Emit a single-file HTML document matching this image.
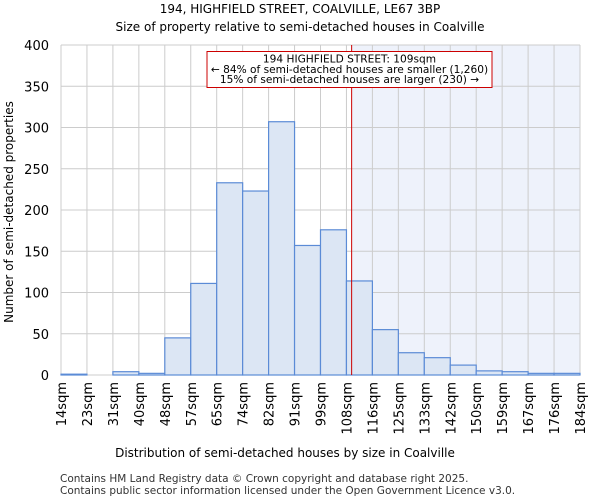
<!DOCTYPE html>
<html><head><meta charset="utf-8"><style>
body{margin:0;background:#fff;font-family:"DejaVu Sans","Liberation Sans",sans-serif;}
</style></head><body>
<svg width="600" height="500" xmlns="http://www.w3.org/2000/svg" font-family="DejaVu Sans, Liberation Sans, sans-serif">
<text x="300" y="13" text-anchor="middle" font-size="12" fill="#000">194, HIGHFIELD STREET, COALVILLE, LE67 3BP</text>
<text x="300" y="31" text-anchor="middle" font-size="12" fill="#000">Size of property relative to semi-detached houses in Coalville</text>
<g id="plot"></g>
<text x="285" y="457" text-anchor="middle" font-size="12">Distribution of semi-detached houses by size in Coalville</text>
<text transform="translate(13,212) rotate(-90)" text-anchor="middle" font-size="12">Number of semi-detached properties</text>
<text x="60" y="482" font-size="10.5" fill="#333">Contains HM Land Registry data © Crown copyright and database right 2025.</text>
<text x="60" y="494" font-size="10.5" fill="#333">Contains public sector information licensed under the Open Government Licence v3.0.</text>
</svg>
<script>
const categories=["14sqm","23sqm","31sqm","40sqm","48sqm","57sqm","65sqm","74sqm","82sqm","91sqm","99sqm","108sqm","116sqm","125sqm","133sqm","142sqm","150sqm","159sqm","167sqm","176sqm","184sqm"];
const counts=[1,0,4,2,45,111,233,223,307,157,176,114,55,27,21,12,5,4,2,2];
const yTicks=[0,50,100,150,200,250,300,350,400];
const markerBinPos=11.2;
const NS="http://www.w3.org/2000/svg";
const g=document.getElementById('plot');
const X0=61,X1=580,Y0=375,Y1=45,N=counts.length;
const bw=(X1-X0)/N;
const xs=i=>X0+i*bw;
const ys=v=>Y0-(v/400)*(Y0-Y1);
function mk(t,a,p){const e=document.createElementNS(NS,t);for(const k in a)e.setAttribute(k,a[k]);(p||g).appendChild(e);return e;}
const mx=xs(markerBinPos);
let e=mk('rect',{x:mx,y:Y1,width:X1-mx,height:Y0-Y1,fill:'#eef2fb'});


for(let i=0;i<=N;i++){e=mk('line',{x1:xs(i),x2:xs(i),y1:Y1,y2:Y0,stroke:'#cccccc','stroke-width':1});

}
yTicks.forEach(t=>{e=mk('line',{x1:X0,x2:X1,y1:ys(t),y2:ys(t),stroke:'#cccccc','stroke-width':1});


e=mk('text',{x:X0-12,y:ys(t)+5,'text-anchor':'end','font-size':13});e.textContent=t;

});
counts.forEach((c,i)=>{e=mk('rect',{x:xs(i),y:ys(c),width:bw,height:Y0-ys(c),fill:'#dce6f4',stroke:'#5b8bd6','stroke-width':1.2});

});
categories.forEach((c,i)=>{e=mk('text',{transform:`translate(${xs(i)+5},382) rotate(-90)`,'text-anchor':'end','font-size':13});e.textContent=c;

});
e=mk('line',{x1:mx,x2:mx,y1:Y1,y2:Y0,stroke:'#cc0000','stroke-width':1});


e=mk('rect',{x:207,y:51.5,width:285,height:36,fill:'#fff',stroke:'#cc0000','stroke-width':1});


["194 HIGHFIELD STREET: 109sqm","← 84% of semi-detached houses are smaller (1,260)","15% of semi-detached houses are larger (230) →"].forEach((s,i)=>{
e=mk('text',{x:349.5,y:62.5+i*10.3,'text-anchor':'middle','font-size':10.6});e.textContent=s;

});
</script>
</body></html>
